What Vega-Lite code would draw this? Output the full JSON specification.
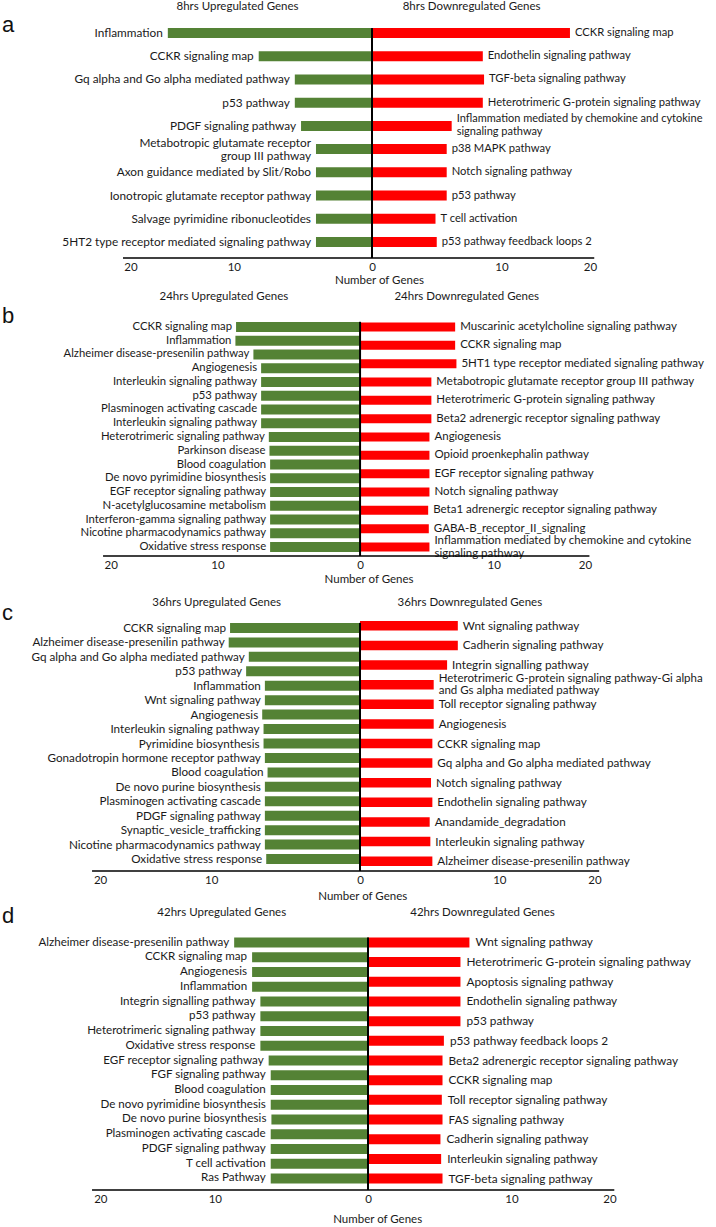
{
  "$schema": "https://vega.github.io/schema/vega-lite/v6.json",
  "padding": {"left": 0, "top": 1, "right": 0, "bottom": 0},
  "background": "white",
  "spacing": 60,
  "bounds": "flush",
  "config": {
    "view": {"stroke": null},
    "font": "Lato",
    "text": {"font": "Lato", "color": "#1a1a1a"},
    "axisX": {"domain": false, "ticks": false, "grid": false, "labelPadding": 3, "labelFontSize": 11.5, "labelColor": "#1a1a1a", "labelFont": "Lato", "labelFlush": false, "labelOverlap": false}
  },
  "datasets": {
    "a_up": [
      {"rank": 1, "pathway": "Inflammation", "genes": -16.4},
      {"rank": 2, "pathway": "CCKR signaling map", "genes": -9.1},
      {"rank": 3, "pathway": "Gq alpha and Go alpha mediated pathway", "genes": -6.2},
      {"rank": 4, "pathway": "p53 pathway", "genes": -6.2},
      {"rank": 5, "pathway": "PDGF signaling pathway", "genes": -5.7},
      {"rank": 6, "pathway": "Metabotropic glutamate receptor\ngroup III pathway", "genes": -4.5},
      {"rank": 7, "pathway": "Axon guidance mediated by Slit/Robo", "genes": -4.5},
      {"rank": 8, "pathway": "Ionotropic glutamate receptor pathway", "genes": -4.5},
      {"rank": 9, "pathway": "Salvage pyrimidine ribonucleotides", "genes": -4.5},
      {"rank": 10, "pathway": "5HT2 type receptor mediated signaling pathway", "genes": -4.5}
    ],
    "a_down": [
      {"rank": 1, "pathway": "CCKR signaling map", "genes": 15.9},
      {"rank": 2, "pathway": "Endothelin signaling pathway", "genes": 8.9},
      {"rank": 3, "pathway": "TGF-beta signaling pathway", "genes": 9.0},
      {"rank": 4, "pathway": "Heterotrimeric G-protein signaling pathway", "genes": 8.9},
      {"rank": 5, "pathway": "Inflammation mediated by chemokine and cytokine\nsignaling pathway", "genes": 6.4},
      {"rank": 6, "pathway": "p38 MAPK pathway", "genes": 6.0},
      {"rank": 7, "pathway": "Notch signaling pathway", "genes": 6.0},
      {"rank": 8, "pathway": "p53 pathway", "genes": 6.0},
      {"rank": 9, "pathway": "T cell activation", "genes": 5.1},
      {"rank": 10, "pathway": "p53 pathway feedback loops 2", "genes": 5.2}
    ],
    "b_up": [
      {"rank": 1, "pathway": "CCKR signaling map", "genes": -9.65},
      {"rank": 2, "pathway": "Inflammation", "genes": -9.7},
      {"rank": 3, "pathway": "Alzheimer disease-presenilin pathway", "genes": -8.3},
      {"rank": 4, "pathway": "Angiogenesis", "genes": -7.7},
      {"rank": 5, "pathway": "Interleukin signaling pathway", "genes": -7.7},
      {"rank": 6, "pathway": "p53 pathway", "genes": -7.7},
      {"rank": 7, "pathway": "Plasminogen activating cascade", "genes": -7.7},
      {"rank": 8, "pathway": "Interleukin signaling pathway", "genes": -7.7},
      {"rank": 9, "pathway": "Heterotrimeric  signaling pathway", "genes": -7.1},
      {"rank": 10, "pathway": "Parkinson disease", "genes": -7.05},
      {"rank": 11, "pathway": "Blood coagulation", "genes": -7.0},
      {"rank": 12, "pathway": "De novo pyrimidine biosynthesis", "genes": -7.0},
      {"rank": 13, "pathway": "EGF receptor signaling pathway", "genes": -7.0},
      {"rank": 14, "pathway": "N-acetylglucosamine metabolism", "genes": -7.0},
      {"rank": 15, "pathway": "Interferon-gamma signaling pathway", "genes": -7.0},
      {"rank": 16, "pathway": "Nicotine pharmacodynamics pathway", "genes": -7.0},
      {"rank": 17, "pathway": "Oxidative stress response", "genes": -7.0}
    ],
    "b_down": [
      {"rank": 1, "pathway": "Muscarinic acetylcholine signaling pathway", "genes": 7.4},
      {"rank": 2, "pathway": "CCKR signaling map", "genes": 7.4},
      {"rank": 3, "pathway": "5HT1 type receptor mediated signaling pathway", "genes": 7.5},
      {"rank": 4, "pathway": "Metabotropic glutamate receptor group III pathway", "genes": 5.55},
      {"rank": 5, "pathway": "Heterotrimeric G-protein signaling pathway", "genes": 5.55},
      {"rank": 6, "pathway": "Beta2 adrenergic receptor signaling pathway", "genes": 5.55},
      {"rank": 7, "pathway": "Angiogenesis", "genes": 5.4},
      {"rank": 8, "pathway": "Opioid proenkephalin pathway", "genes": 5.4},
      {"rank": 9, "pathway": "EGF receptor signaling pathway", "genes": 5.4},
      {"rank": 10, "pathway": "Notch signaling pathway", "genes": 5.4},
      {"rank": 11, "pathway": "Beta1 adrenergic receptor signaling pathway", "genes": 5.3},
      {"rank": 12, "pathway": "GABA-B_receptor_II_signaling", "genes": 5.35},
      {"rank": 13, "pathway": "Inflammation mediated by chemokine and cytokine\nsignaling pathway", "genes": 5.4}
    ],
    "c_up": [
      {"rank": 1, "pathway": "CCKR signaling map", "genes": -9.7},
      {"rank": 2, "pathway": "Alzheimer disease-presenilin pathway", "genes": -9.8},
      {"rank": 3, "pathway": "Gq alpha and Go alpha mediated pathway", "genes": -8.3},
      {"rank": 4, "pathway": "p53 pathway", "genes": -8.5},
      {"rank": 5, "pathway": "Inflammation", "genes": -7.1},
      {"rank": 6, "pathway": "Wnt signaling pathway", "genes": -7.1},
      {"rank": 7, "pathway": "Angiogenesis", "genes": -7.3},
      {"rank": 8, "pathway": "Interleukin signaling pathway", "genes": -7.2},
      {"rank": 9, "pathway": "Pyrimidine biosynthesis", "genes": -7.2},
      {"rank": 10, "pathway": "Gonadotropin hormone receptor pathway", "genes": -7.1},
      {"rank": 11, "pathway": "Blood coagulation", "genes": -6.9},
      {"rank": 12, "pathway": "De novo purine biosynthesis", "genes": -7.1},
      {"rank": 13, "pathway": "Plasminogen activating cascade", "genes": -7.1},
      {"rank": 14, "pathway": "PDGF signaling pathway", "genes": -7.1},
      {"rank": 15, "pathway": "Synaptic_vesicle_trafficking", "genes": -7.1},
      {"rank": 16, "pathway": "Nicotine pharmacodynamics pathway", "genes": -7.1},
      {"rank": 17, "pathway": "Oxidative stress response", "genes": -7.0}
    ],
    "c_down": [
      {"rank": 1, "pathway": "Wnt signaling pathway", "genes": 7.3},
      {"rank": 2, "pathway": "Cadherin signaling pathway", "genes": 7.3},
      {"rank": 3, "pathway": "Integrin signalling pathway", "genes": 6.5},
      {"rank": 4, "pathway": "Heterotrimeric G-protein signaling pathway-Gi alpha\nand Gs alpha mediated pathway", "genes": 5.5},
      {"rank": 5, "pathway": "Toll receptor signaling pathway", "genes": 5.5},
      {"rank": 6, "pathway": "Angiogenesis", "genes": 5.5},
      {"rank": 7, "pathway": "CCKR signaling map", "genes": 5.4},
      {"rank": 8, "pathway": "Gq alpha and Go alpha mediated pathway", "genes": 5.4},
      {"rank": 9, "pathway": "Notch signaling pathway", "genes": 5.3},
      {"rank": 10, "pathway": "Endothelin signaling pathway", "genes": 5.4},
      {"rank": 11, "pathway": "Anandamide_degradation", "genes": 5.2},
      {"rank": 12, "pathway": "Interleukin signaling pathway", "genes": 5.25},
      {"rank": 13, "pathway": "Alzheimer disease-presenilin pathway", "genes": 5.4}
    ],
    "d_up": [
      {"rank": 1, "pathway": "Alzheimer disease-presenilin pathway", "genes": -9.7},
      {"rank": 2, "pathway": "CCKR signaling map", "genes": -8.4},
      {"rank": 3, "pathway": "Angiogenesis", "genes": -8.4},
      {"rank": 4, "pathway": "Inflammation", "genes": -8.4},
      {"rank": 5, "pathway": "Integrin signalling pathway", "genes": -7.8},
      {"rank": 6, "pathway": "p53 pathway", "genes": -7.8},
      {"rank": 7, "pathway": "Heterotrimeric signaling pathway", "genes": -7.8},
      {"rank": 8, "pathway": "Oxidative stress response", "genes": -7.8},
      {"rank": 9, "pathway": "EGF receptor signaling pathway", "genes": -7.2},
      {"rank": 10, "pathway": "FGF signaling pathway", "genes": -7.05},
      {"rank": 11, "pathway": "Blood coagulation", "genes": -7.05},
      {"rank": 12, "pathway": "De novo pyrimidine biosynthesis", "genes": -7.05},
      {"rank": 13, "pathway": "De novo purine biosynthesis", "genes": -7.0},
      {"rank": 14, "pathway": "Plasminogen activating cascade", "genes": -7.05},
      {"rank": 15, "pathway": "PDGF signaling pathway", "genes": -7.05},
      {"rank": 16, "pathway": "T cell activation", "genes": -7.05},
      {"rank": 17, "pathway": "Ras Pathway", "genes": -7.05}
    ],
    "d_down": [
      {"rank": 1, "pathway": "Wnt signaling pathway", "genes": 7.35},
      {"rank": 2, "pathway": "Heterotrimeric G-protein signaling pathway", "genes": 6.7},
      {"rank": 3, "pathway": "Apoptosis signaling pathway", "genes": 6.7},
      {"rank": 4, "pathway": "Endothelin signaling pathway", "genes": 6.7},
      {"rank": 5, "pathway": "p53 pathway", "genes": 6.7},
      {"rank": 6, "pathway": "p53 pathway feedback loops 2", "genes": 5.5},
      {"rank": 7, "pathway": "Beta2 adrenergic receptor signaling pathway", "genes": 5.4},
      {"rank": 8, "pathway": "CCKR signaling map", "genes": 5.4},
      {"rank": 9, "pathway": "Toll receptor signaling pathway", "genes": 5.35},
      {"rank": 10, "pathway": "FAS signaling pathway", "genes": 5.4},
      {"rank": 11, "pathway": "Cadherin signaling pathway", "genes": 5.25},
      {"rank": 12, "pathway": "Interleukin signaling pathway", "genes": 5.3},
      {"rank": 13, "pathway": "TGF-beta signaling pathway", "genes": 5.4}
    ]
  },
  "vconcat": [
    {
      "width": 716, "height": 241,
      "resolve": {"scale": {"y": "independent"}},
      "layer": [
        {"data": {"name": "a_up"},
         "encoding": {
           "y": {"field": "rank", "type": "ordinal", "scale": {"type": "point", "padding": 0.69}, "axis": null},
           "x": {"field": "genes", "type": "quantitative", "scale": {"domain": [-29.88, 27.63], "nice": false, "zero": false}, "axis": {"values": [-19.4, -11.1, 0, 10.4, 17.5], "labelExpr": "abs(datum.value) > 15 ? '20' : (abs(datum.value) > 5 ? '10' : '0')", "title": null}}
         },
         "layer": [
           {"mark": {"type": "bar", "color": "#548235", "size": 10}, "encoding": {"x2": {"datum": 0}}},
           {"transform": [{"filter": "indexof(datum.pathway, '\\n') < 0"}], "mark": {"type": "text", "align": "right", "baseline": "middle", "dx": -5, "fontSize": 11.8}, "encoding": {"text": {"field": "pathway"}}},
           {"transform": [{"filter": "indexof(datum.pathway, '\\n') >= 0"}], "mark": {"type": "text", "align": "right", "baseline": "middle", "dx": -5, "dy": -6.5, "fontSize": 11.8, "lineBreak": "\n", "lineHeight": 13}, "encoding": {"text": {"field": "pathway"}}}
         ]},
        {"data": {"name": "a_down"},
         "encoding": {
           "y": {"field": "rank", "type": "ordinal", "scale": {"type": "point", "padding": 0.69}, "axis": null},
           "x": {"field": "genes", "type": "quantitative", "scale": {"domain": [-29.88, 27.63], "nice": false, "zero": false}, "axis": {"values": [-19.4, -11.1, 0, 10.4, 17.5], "labelExpr": "abs(datum.value) > 15 ? '20' : (abs(datum.value) > 5 ? '10' : '0')", "title": null}}
         },
         "layer": [
           {"mark": {"type": "bar", "color": "#FF0000", "size": 10}, "encoding": {"x2": {"datum": 0}}},
           {"transform": [{"filter": "indexof(datum.pathway, '\\n') < 0"}], "mark": {"type": "text", "align": "left", "baseline": "middle", "dx": 5, "fontSize": 11.2}, "encoding": {"text": {"field": "pathway"}}},
           {"transform": [{"filter": "indexof(datum.pathway, '\\n') >= 0"}], "mark": {"type": "text", "align": "left", "baseline": "middle", "dx": 5, "dy": -6.5, "fontSize": 11, "lineBreak": "\n", "lineHeight": 13}, "encoding": {"text": {"field": "pathway"}}}
         ]},
        {"data": {"values": [{}]}, "mark": {"type": "rule", "color": "#000", "strokeWidth": 2},
         "encoding": {"x": {"datum": 0, "type": "quantitative", "axis": {"values": [-19.4, -11.1, 0, 10.4, 17.5], "labelExpr": "abs(datum.value) > 15 ? '20' : (abs(datum.value) > 5 ? '10' : '0')", "title": null}}, "y": {"datum": 0.954, "type": "quantitative", "scale": {"domain": [0, 1]}, "axis": null}, "y2": {"datum": 0}}},
        {"data": {"values": [{}]}, "mark": {"type": "rule", "color": "#000", "strokeWidth": 1.5},
         "encoding": {"x": {"datum": -20, "type": "quantitative", "axis": {"values": [-19.4, -11.1, 0, 10.4, 17.5], "labelExpr": "abs(datum.value) > 15 ? '20' : (abs(datum.value) > 5 ? '10' : '0')", "title": null}}, "x2": {"datum": 17.85}, "y": {"datum": 0, "type": "quantitative", "scale": {"domain": [0, 1]}, "axis": null}}},
        {"data": {"values": [{"label": "a"}]}, "mark": {"type": "text", "font": "Liberation Sans", "fontSize": 22, "align": "left", "baseline": "middle", "dx": 2, "dy": 7.5, "color": "#111"},
         "encoding": {"x": {"datum": -29.88, "type": "quantitative", "axis": {"values": [-19.4, -11.1, 0, 10.4, 17.5], "labelExpr": "abs(datum.value) > 15 ? '20' : (abs(datum.value) > 5 ? '10' : '0')", "title": null}}, "y": {"datum": 1, "type": "quantitative", "scale": {"domain": [0, 1]}, "axis": null}, "text": {"field": "label"}}},
        {"data": {"values": [{"label": "8hrs Upregulated Genes"}]}, "mark": {"type": "text", "fontSize": 11.5, "baseline": "middle", "dy": -10},
         "encoding": {"x": {"datum": -10.8, "type": "quantitative", "axis": {"values": [-19.4, -11.1, 0, 10.4, 17.5], "labelExpr": "abs(datum.value) > 15 ? '20' : (abs(datum.value) > 5 ? '10' : '0')", "title": null}}, "y": {"datum": 1, "type": "quantitative", "scale": {"domain": [0, 1]}, "axis": null}, "text": {"field": "label"}}},
        {"data": {"values": [{"label": "8hrs Downregulated Genes"}]}, "mark": {"type": "text", "fontSize": 11.5, "baseline": "middle", "dy": -10},
         "encoding": {"x": {"datum": 8.0, "type": "quantitative", "axis": {"values": [-19.4, -11.1, 0, 10.4, 17.5], "labelExpr": "abs(datum.value) > 15 ? '20' : (abs(datum.value) > 5 ? '10' : '0')", "title": null}}, "y": {"datum": 1, "type": "quantitative", "scale": {"domain": [0, 1]}, "axis": null}, "text": {"field": "label"}}},
        {"data": {"values": [{"label": "Number of Genes"}]}, "mark": {"type": "text", "fontSize": 11.5, "baseline": "middle", "dy": 23},
         "encoding": {"x": {"datum": 0.6, "type": "quantitative", "axis": {"values": [-19.4, -11.1, 0, 10.4, 17.5], "labelExpr": "abs(datum.value) > 15 ? '20' : (abs(datum.value) > 5 ? '10' : '0')", "title": null}}, "y": {"datum": 0, "type": "quantitative", "scale": {"domain": [0, 1]}, "axis": null}, "text": {"field": "label"}}}
      ]
    },
    {
      "width": 716, "height": 238,
      "resolve": {"scale": {"y": "independent"}},
      "layer": [
        {"data": {"name": "b_up"},
         "encoding": {
           "y": {"field": "rank", "type": "ordinal", "scale": {"type": "point", "padding": 0.65}, "axis": null},
           "x": {"field": "genes", "type": "quantitative", "scale": {"domain": [-28.02, 27.7], "nice": false, "zero": false}, "axis": {"values": [-19.4, -11.1, 0, 10.4, 17.5], "labelExpr": "abs(datum.value) > 15 ? '20' : (abs(datum.value) > 5 ? '10' : '0')", "title": null}}
         },
         "layer": [
           {"mark": {"type": "bar", "color": "#548235", "size": 10}, "encoding": {"x2": {"datum": 0}}},
           {"mark": {"type": "text", "align": "right", "baseline": "middle", "dx": -4, "fontSize": 11.3}, "encoding": {"text": {"field": "pathway"}}}
         ]},
        {"data": {"name": "b_down"},
         "encoding": {
           "y": {"field": "rank", "type": "ordinal", "scale": {"type": "point", "padding": 0.49}, "axis": null},
           "x": {"field": "genes", "type": "quantitative", "scale": {"domain": [-28.02, 27.7], "nice": false, "zero": false}, "axis": {"values": [-19.4, -11.1, 0, 10.4, 17.5], "labelExpr": "abs(datum.value) > 15 ? '20' : (abs(datum.value) > 5 ? '10' : '0')", "title": null}}
         },
         "layer": [
           {"mark": {"type": "bar", "color": "#FF0000", "size": 9}, "encoding": {"x2": {"datum": 0}}},
           {"transform": [{"filter": "indexof(datum.pathway, '\\n') < 0"}], "mark": {"type": "text", "align": "left", "baseline": "middle", "dx": 5, "fontSize": 11.5}, "encoding": {"text": {"field": "pathway"}}},
           {"transform": [{"filter": "indexof(datum.pathway, '\\n') >= 0"}], "mark": {"type": "text", "align": "left", "baseline": "middle", "dx": 5, "dy": -6.5, "fontSize": 11.5, "lineBreak": "\n", "lineHeight": 13}, "encoding": {"text": {"field": "pathway"}}}
         ]},
        {"data": {"values": [{}]}, "mark": {"type": "rule", "color": "#000", "strokeWidth": 2},
         "encoding": {"x": {"datum": 0, "type": "quantitative", "axis": {"values": [-19.4, -11.1, 0, 10.4, 17.5], "labelExpr": "abs(datum.value) > 15 ? '20' : (abs(datum.value) > 5 ? '10' : '0')", "title": null}}, "y": {"datum": 0.984, "type": "quantitative", "scale": {"domain": [0, 1]}, "axis": null}, "y2": {"datum": 0}}},
        {"data": {"values": [{}]}, "mark": {"type": "rule", "color": "#000", "strokeWidth": 1.5},
         "encoding": {"x": {"datum": -20, "type": "quantitative", "axis": {"values": [-19.4, -11.1, 0, 10.4, 17.5], "labelExpr": "abs(datum.value) > 15 ? '20' : (abs(datum.value) > 5 ? '10' : '0')", "title": null}}, "x2": {"datum": 17.85}, "y": {"datum": 0, "type": "quantitative", "scale": {"domain": [0, 1]}, "axis": null}}},
        {"data": {"values": [{"label": "b"}]}, "mark": {"type": "text", "font": "Liberation Sans", "fontSize": 22, "align": "left", "baseline": "middle", "dx": 2, "dy": -2, "color": "#111"},
         "encoding": {"x": {"datum": -28.02, "type": "quantitative", "axis": {"values": [-19.4, -11.1, 0, 10.4, 17.5], "labelExpr": "abs(datum.value) > 15 ? '20' : (abs(datum.value) > 5 ? '10' : '0')", "title": null}}, "y": {"datum": 1, "type": "quantitative", "scale": {"domain": [0, 1]}, "axis": null}, "text": {"field": "label"}}},
        {"data": {"values": [{"label": "24hrs Upregulated Genes"}]}, "mark": {"type": "text", "fontSize": 11.5, "baseline": "middle", "dy": -21},
         "encoding": {"x": {"datum": -10.6, "type": "quantitative", "axis": {"values": [-19.4, -11.1, 0, 10.4, 17.5], "labelExpr": "abs(datum.value) > 15 ? '20' : (abs(datum.value) > 5 ? '10' : '0')", "title": null}}, "y": {"datum": 1, "type": "quantitative", "scale": {"domain": [0, 1]}, "axis": null}, "text": {"field": "label"}}},
        {"data": {"values": [{"label": "24hrs Downregulated Genes"}]}, "mark": {"type": "text", "fontSize": 11.5, "baseline": "middle", "dy": -21},
         "encoding": {"x": {"datum": 8.3, "type": "quantitative", "axis": {"values": [-19.4, -11.1, 0, 10.4, 17.5], "labelExpr": "abs(datum.value) > 15 ? '20' : (abs(datum.value) > 5 ? '10' : '0')", "title": null}}, "y": {"datum": 1, "type": "quantitative", "scale": {"domain": [0, 1]}, "axis": null}, "text": {"field": "label"}}},
        {"data": {"values": [{"label": "Number of Genes"}]}, "mark": {"type": "text", "fontSize": 11.5, "baseline": "middle", "dy": 24},
         "encoding": {"x": {"datum": 0.7, "type": "quantitative", "axis": {"values": [-19.4, -11.1, 0, 10.4, 17.5], "labelExpr": "abs(datum.value) > 15 ? '20' : (abs(datum.value) > 5 ? '10' : '0')", "title": null}}, "y": {"datum": 0, "type": "quantitative", "scale": {"domain": [0, 1]}, "axis": null}, "text": {"field": "label"}}}
      ]
    },
    {
      "width": 716, "height": 255,
      "resolve": {"scale": {"y": "independent"}},
      "layer": [
        {"data": {"name": "c_up"},
         "encoding": {
           "y": {"field": "rank", "type": "ordinal", "scale": {"type": "point", "padding": 0.83}, "axis": null},
           "x": {"field": "genes", "type": "quantitative", "scale": {"domain": [-26.87, 26.57], "nice": false, "zero": false}, "axis": {"values": [-19.4, -11.1, 0, 10.4, 17.5], "labelExpr": "abs(datum.value) > 15 ? '20' : (abs(datum.value) > 5 ? '10' : '0')", "title": null}}
         },
         "layer": [
           {"mark": {"type": "bar", "color": "#548235", "size": 10}, "encoding": {"x2": {"datum": 0}}},
           {"mark": {"type": "text", "align": "right", "baseline": "middle", "dx": -4, "fontSize": 11.7}, "encoding": {"text": {"field": "pathway"}}}
         ]},
        {"data": {"name": "c_down"},
         "encoding": {
           "y": {"field": "rank", "type": "ordinal", "scale": {"type": "point", "padding": 0.5}, "axis": null},
           "x": {"field": "genes", "type": "quantitative", "scale": {"domain": [-26.87, 26.57], "nice": false, "zero": false}, "axis": {"values": [-19.4, -11.1, 0, 10.4, 17.5], "labelExpr": "abs(datum.value) > 15 ? '20' : (abs(datum.value) > 5 ? '10' : '0')", "title": null}}
         },
         "layer": [
           {"mark": {"type": "bar", "color": "#FF0000", "size": 9.5}, "encoding": {"x2": {"datum": 0}}},
           {"transform": [{"filter": "indexof(datum.pathway, '\\n') < 0"}], "mark": {"type": "text", "align": "left", "baseline": "middle", "dx": 5, "fontSize": 11.7}, "encoding": {"text": {"field": "pathway"}}},
           {"transform": [{"filter": "indexof(datum.pathway, '\\n') >= 0"}], "mark": {"type": "text", "align": "left", "baseline": "middle", "dx": 5, "dy": -6, "fontSize": 11.5, "lineBreak": "\n", "lineHeight": 12}, "encoding": {"text": {"field": "pathway"}}}
         ]},
        {"data": {"values": [{}]}, "mark": {"type": "rule", "color": "#000", "strokeWidth": 2},
         "encoding": {"x": {"datum": 0, "type": "quantitative", "axis": {"values": [-19.4, -11.1, 0, 10.4, 17.5], "labelExpr": "abs(datum.value) > 15 ? '20' : (abs(datum.value) > 5 ? '10' : '0')", "title": null}}, "y": {"datum": 0.973, "type": "quantitative", "scale": {"domain": [0, 1]}, "axis": null}, "y2": {"datum": 0}}},
        {"data": {"values": [{}]}, "mark": {"type": "rule", "color": "#000", "strokeWidth": 1.5},
         "encoding": {"x": {"datum": -20, "type": "quantitative", "axis": {"values": [-19.4, -11.1, 0, 10.4, 17.5], "labelExpr": "abs(datum.value) > 15 ? '20' : (abs(datum.value) > 5 ? '10' : '0')", "title": null}}, "x2": {"datum": 17.85}, "y": {"datum": 0, "type": "quantitative", "scale": {"domain": [0, 1]}, "axis": null}}},
        {"data": {"values": [{"label": "c"}]}, "mark": {"type": "text", "font": "Liberation Sans", "fontSize": 22, "align": "left", "baseline": "middle", "dx": 2, "dy": -3.5, "color": "#111"},
         "encoding": {"x": {"datum": -26.87, "type": "quantitative", "axis": {"values": [-19.4, -11.1, 0, 10.4, 17.5], "labelExpr": "abs(datum.value) > 15 ? '20' : (abs(datum.value) > 5 ? '10' : '0')", "title": null}}, "y": {"datum": 1, "type": "quantitative", "scale": {"domain": [0, 1]}, "axis": null}, "text": {"field": "label"}}},
        {"data": {"values": [{"label": "36hrs Upregulated Genes"}]}, "mark": {"type": "text", "fontSize": 11.5, "baseline": "middle", "dy": -13},
         "encoding": {"x": {"datum": -10.7, "type": "quantitative", "axis": {"values": [-19.4, -11.1, 0, 10.4, 17.5], "labelExpr": "abs(datum.value) > 15 ? '20' : (abs(datum.value) > 5 ? '10' : '0')", "title": null}}, "y": {"datum": 1, "type": "quantitative", "scale": {"domain": [0, 1]}, "axis": null}, "text": {"field": "label"}}},
        {"data": {"values": [{"label": "36hrs Downregulated Genes"}]}, "mark": {"type": "text", "fontSize": 11.5, "baseline": "middle", "dy": -13},
         "encoding": {"x": {"datum": 8.2, "type": "quantitative", "axis": {"values": [-19.4, -11.1, 0, 10.4, 17.5], "labelExpr": "abs(datum.value) > 15 ? '20' : (abs(datum.value) > 5 ? '10' : '0')", "title": null}}, "y": {"datum": 1, "type": "quantitative", "scale": {"domain": [0, 1]}, "axis": null}, "text": {"field": "label"}}},
        {"data": {"values": [{"label": "Number of Genes"}]}, "mark": {"type": "text", "fontSize": 11.5, "baseline": "middle", "dy": 26},
         "encoding": {"x": {"datum": 0.2, "type": "quantitative", "axis": {"values": [-19.4, -11.1, 0, 10.4, 17.5], "labelExpr": "abs(datum.value) > 15 ? '20' : (abs(datum.value) > 5 ? '10' : '0')", "title": null}}, "y": {"datum": 0, "type": "quantitative", "scale": {"domain": [0, 1]}, "axis": null}, "text": {"field": "label"}}}
      ]
    },
    {
      "width": 716, "height": 259,
      "resolve": {"scale": {"y": "independent"}},
      "layer": [
        {"data": {"name": "d_up"},
         "encoding": {
           "y": {"field": "rank", "type": "ordinal", "scale": {"type": "point", "padding": 0.78}, "axis": null},
           "x": {"field": "genes", "type": "quantitative", "scale": {"domain": [-26.67, 25.22], "nice": false, "zero": false}, "axis": {"values": [-19.4, -11.1, 0, 10.4, 17.5], "labelExpr": "abs(datum.value) > 15 ? '20' : (abs(datum.value) > 5 ? '10' : '0')", "title": null}}
         },
         "layer": [
           {"mark": {"type": "bar", "color": "#548235", "size": 10}, "encoding": {"x2": {"datum": 0}}},
           {"mark": {"type": "text", "align": "right", "baseline": "middle", "dx": -5, "fontSize": 11.6}, "encoding": {"text": {"field": "pathway"}}}
         ]},
        {"data": {"name": "d_down"},
         "encoding": {
           "y": {"field": "rank", "type": "ordinal", "scale": {"type": "point", "padding": 0.58}, "axis": null},
           "x": {"field": "genes", "type": "quantitative", "scale": {"domain": [-26.67, 25.22], "nice": false, "zero": false}, "axis": {"values": [-19.4, -11.1, 0, 10.4, 17.5], "labelExpr": "abs(datum.value) > 15 ? '20' : (abs(datum.value) > 5 ? '10' : '0')", "title": null}}
         },
         "layer": [
           {"mark": {"type": "bar", "color": "#FF0000", "size": 10}, "encoding": {"x2": {"datum": 0}}},
           {"mark": {"type": "text", "align": "left", "baseline": "middle", "dx": 6, "fontSize": 11.8}, "encoding": {"text": {"field": "pathway"}}}
         ]},
        {"data": {"values": [{}]}, "mark": {"type": "rule", "color": "#000", "strokeWidth": 2},
         "encoding": {"x": {"datum": 0, "type": "quantitative", "axis": {"values": [-19.4, -11.1, 0, 10.4, 17.5], "labelExpr": "abs(datum.value) > 15 ? '20' : (abs(datum.value) > 5 ? '10' : '0')", "title": null}}, "y": {"datum": 0.975, "type": "quantitative", "scale": {"domain": [0, 1]}, "axis": null}, "y2": {"datum": 0}}},
        {"data": {"values": [{}]}, "mark": {"type": "rule", "color": "#000", "strokeWidth": 1.5},
         "encoding": {"x": {"datum": -20, "type": "quantitative", "axis": {"values": [-19.4, -11.1, 0, 10.4, 17.5], "labelExpr": "abs(datum.value) > 15 ? '20' : (abs(datum.value) > 5 ? '10' : '0')", "title": null}}, "x2": {"datum": 17.85}, "y": {"datum": 0, "type": "quantitative", "scale": {"domain": [0, 1]}, "axis": null}}},
        {"data": {"values": [{"label": "d"}]}, "mark": {"type": "text", "font": "Liberation Sans", "fontSize": 22, "align": "left", "baseline": "middle", "dx": 2, "dy": -15, "color": "#111"},
         "encoding": {"x": {"datum": -26.67, "type": "quantitative", "axis": {"values": [-19.4, -11.1, 0, 10.4, 17.5], "labelExpr": "abs(datum.value) > 15 ? '20' : (abs(datum.value) > 5 ? '10' : '0')", "title": null}}, "y": {"datum": 1, "type": "quantitative", "scale": {"domain": [0, 1]}, "axis": null}, "text": {"field": "label"}}},
        {"data": {"values": [{"label": "42hrs Upregulated Genes"}]}, "mark": {"type": "text", "fontSize": 11.5, "baseline": "middle", "dy": -18},
         "encoding": {"x": {"datum": -10.6, "type": "quantitative", "axis": {"values": [-19.4, -11.1, 0, 10.4, 17.5], "labelExpr": "abs(datum.value) > 15 ? '20' : (abs(datum.value) > 5 ? '10' : '0')", "title": null}}, "y": {"datum": 1, "type": "quantitative", "scale": {"domain": [0, 1]}, "axis": null}, "text": {"field": "label"}}},
        {"data": {"values": [{"label": "42hrs Downregulated Genes"}]}, "mark": {"type": "text", "fontSize": 11.5, "baseline": "middle", "dy": -18},
         "encoding": {"x": {"datum": 8.3, "type": "quantitative", "axis": {"values": [-19.4, -11.1, 0, 10.4, 17.5], "labelExpr": "abs(datum.value) > 15 ? '20' : (abs(datum.value) > 5 ? '10' : '0')", "title": null}}, "y": {"datum": 1, "type": "quantitative", "scale": {"domain": [0, 1]}, "axis": null}, "text": {"field": "label"}}},
        {"data": {"values": [{"label": "Number of Genes"}]}, "mark": {"type": "text", "fontSize": 11.5, "baseline": "middle", "dy": 30},
         "encoding": {"x": {"datum": 0.7, "type": "quantitative", "axis": {"values": [-19.4, -11.1, 0, 10.4, 17.5], "labelExpr": "abs(datum.value) > 15 ? '20' : (abs(datum.value) > 5 ? '10' : '0')", "title": null}}, "y": {"datum": 0, "type": "quantitative", "scale": {"domain": [0, 1]}, "axis": null}, "text": {"field": "label"}}}
      ]
    }
  ]
}
